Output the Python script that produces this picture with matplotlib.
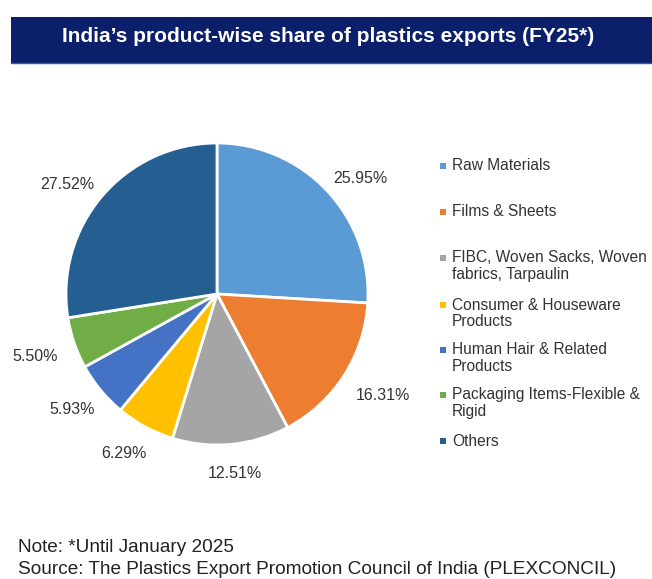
import matplotlib
matplotlib.use("Agg")
import matplotlib.pyplot as plt
from matplotlib.patches import Rectangle

categories = ["Raw Materials", "Films & Sheets", "FIBC, Woven Sacks, Woven\nfabrics, Tarpaulin",
              "Consumer & Houseware\nProducts", "Human Hair & Related\nProducts",
              "Packaging Items-Flexible &\nRigid", "Others"]
shares = [25.95, 16.31, 12.51, 6.29, 5.93, 5.50, 27.52]
colors = ["#5B9BD5", "#ED7D31", "#A5A5A5", "#FFC000", "#4472C4", "#70AD47", "#255E91"]
title = "India\u2019s product-wise share of plastics exports (FY25*)"
note = "Note: *Until January 2025"
source = "Source: The Plastics Export Promotion Council of India (PLEXCONCIL)"

# small label nudges (pixels, x right / y up) mimicking Excel's best-fit placement
label_nudge = [(7, -13), (8, 0), (0, 7), (-4, 5), (0, 4), (-5, -2), (-7, -12)]

W, H = 652, 579
plt.rcParams['font.family'] = ['Liberation Sans', 'DejaVu Sans']
fig = plt.figure(figsize=(W / 100, H / 100), dpi=100)
ax = fig.add_axes([0, 0, 1, 1])

def Y(y):
    return H - y

cx, cy, r = 217, 294, 151
wedges, texts, autotexts = ax.pie(
    shares, colors=colors, startangle=90, counterclock=False,
    center=(cx, Y(cy)), radius=r,
    autopct=lambda p: "", pctdistance=1.24,
    wedgeprops=dict(edgecolor="white", linewidth=2))
for t, v, (nx, ny) in zip(autotexts, shares, label_nudge):
    t.set_text(f"{v:.2f}%")
    t.set_fontsize(11.5)
    t.set_color("#333333")
    x0, y0 = t.get_position()
    t.set_position((x0 + nx, y0 + ny))

ax.set_xlim(0, W)
ax.set_ylim(0, H)
ax.set_aspect("equal")
ax.axis("off")

# title band
ax.add_patch(Rectangle((11, Y(63)), W - 11, 46, facecolor="#0C1F6B", edgecolor="none"))
ax.plot([11, W], [Y(62.5), Y(62.5)], color="#3A5A9A", linewidth=1)
ax.text(328, Y(36.5), title, color="white", fontsize=15, fontweight="bold",
        ha="center", va="center")

# legend
legend_y = [166, 212, 258, 305, 350, 395, 441]
for lab, col, ly in zip(categories, colors, legend_y):
    ax.add_patch(Rectangle((440, Y(ly) - 2.5), 5.5, 5.5, facecolor=col, edgecolor="none"))
    ax.text(452, Y(ly) + 7.5, lab, fontsize=11.2, color="#333333", ha="left", va="top",
            linespacing=1.15)

ax.text(18, Y(547), note, fontsize=13.7, color="#222222", ha="left", va="center")
ax.text(18, Y(570), source, fontsize=13.7, color="#222222", ha="left", va="center")

fig.savefig("out.png", dpi=100)
